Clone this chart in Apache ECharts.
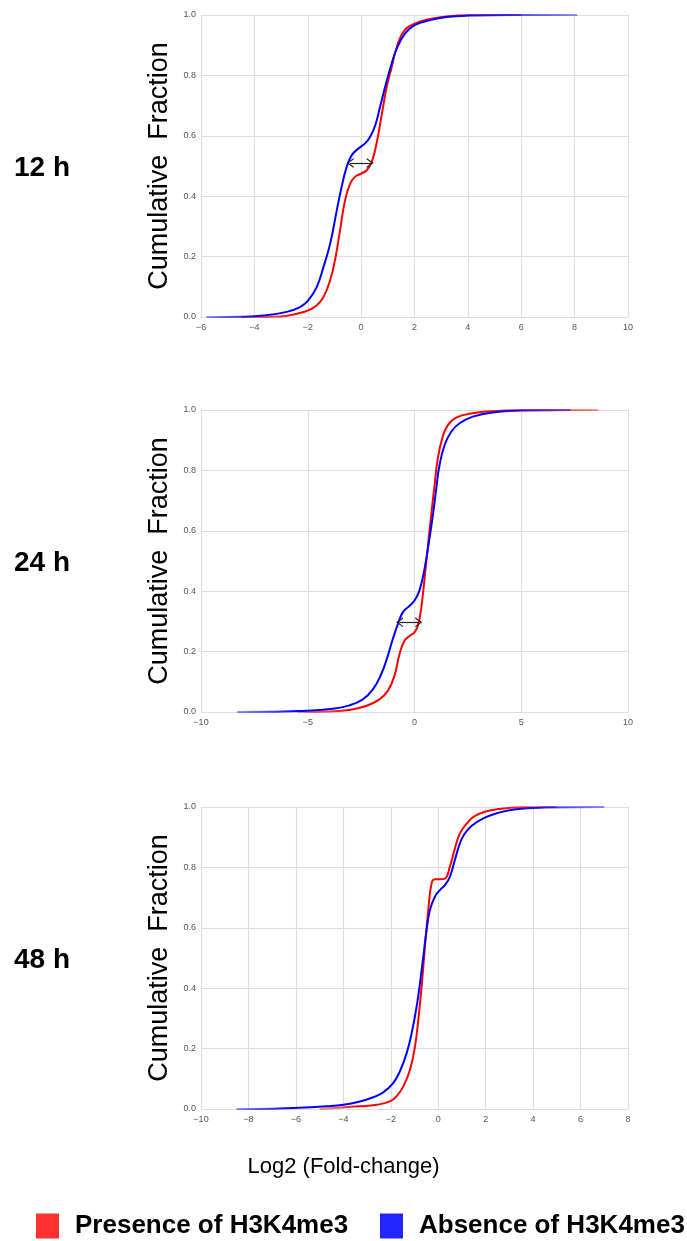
<!DOCTYPE html>
<html>
<head>
<meta charset="utf-8">
<script src="https://cdn.jsdelivr.net/npm/echarts@6/dist/echarts.min.js"></script>
<style>
html,body{margin:0;padding:0;background:#fff;}
#chart{width:687px;height:1241px;}
</style>
</head>
<body>
<div id="chart"></div>
<script>
// ---- data ----
var panelLabels = ['12 h', '24 h', '48 h'];
var seriesNames = ['Presence of H3K4me3', 'Absence of H3K4me3'];
var yTitle = 'Cumulative  Fraction';
var xTitle = 'Log2 (Fold-change)';

// x-axis ranges / tick steps per panel
var xMins = [-6, -10, -10];
var xMaxs = [10, 10, 8];
var xSteps = [2, 5, 2];

// 12 h
var presence12 = [[-4.5,0],[-3.04,0.002],[-2.41,0.011],[-1.98,0.022],[-1.66,0.039],[-1.41,0.066],[-1.16,0.122],[-0.98,0.188],[-0.79,0.287],[-0.6,0.387],[-0.41,0.442],[-0.23,0.464],[0,0.475],[0.21,0.486],[0.4,0.514],[0.59,0.58],[0.78,0.674],[0.96,0.762],[1.15,0.829],[1.34,0.895],[1.59,0.945],[1.96,0.97],[2.59,0.987],[3.2,0.995],[4.0,0.999],[6.0,1.0]];
var absence12 = [[-5.8,0],[-4.5,0.001],[-3.66,0.005],[-2.79,0.017],[-2.29,0.033],[-1.98,0.055],[-1.66,0.10],[-1.41,0.166],[-1.16,0.243],[-0.91,0.354],[-0.73,0.431],[-0.54,0.497],[-0.35,0.536],[-0.1,0.558],[0.15,0.575],[0.34,0.597],[0.53,0.635],[0.71,0.696],[0.9,0.762],[1.09,0.823],[1.34,0.89],[1.65,0.939],[2.02,0.967],[2.59,0.983],[3.2,0.993],[4.0,0.998],[5.5,1.0],[8.1,1.0]];
var arrow12 = [[-0.41,0.51],[0.34,0.51]];

// 24 h
var presence24 = [[-5.5,0],[-4.0,0.002],[-3.05,0.007],[-2.27,0.02],[-1.64,0.042],[-1.25,0.07],[-0.94,0.12],[-0.7,0.192],[-0.47,0.236],[-0.23,0.252],[0,0.264],[0.16,0.286],[0.31,0.341],[0.47,0.441],[0.63,0.551],[0.78,0.651],[0.94,0.751],[1.09,0.839],[1.3,0.906],[1.56,0.95],[1.95,0.975],[2.73,0.989],[3.67,0.996],[5.0,0.999],[8.6,1.0]];
var absence24 = [[-8.3,0],[-6.5,0.001],[-5.39,0.003],[-3.83,0.011],[-3.05,0.022],[-2.42,0.042],[-1.95,0.075],[-1.56,0.125],[-1.25,0.186],[-1.02,0.241],[-0.78,0.291],[-0.55,0.33],[-0.23,0.352],[0,0.369],[0.23,0.402],[0.47,0.474],[0.7,0.574],[0.86,0.651],[1.02,0.74],[1.17,0.817],[1.41,0.884],[1.72,0.928],[2.11,0.956],[2.73,0.978],[3.67,0.992],[5.0,0.998],[7.3,1.0]];
var arrow24 = [[-0.7,0.297],[0.2,0.297]];

// 48 h
var presence48 = [[-5.0,0],[-4.7,0.002],[-3.3,0.009],[-2.6,0.014],[-2.04,0.025],[-1.76,0.042],[-1.47,0.075],[-1.19,0.13],[-0.98,0.207],[-0.84,0.295],[-0.7,0.405],[-0.56,0.537],[-0.42,0.659],[-0.28,0.747],[-0.14,0.761],[0.07,0.761],[0.28,0.763],[0.49,0.802],[0.7,0.862],[0.91,0.912],[1.2,0.945],[1.5,0.968],[2.0,0.985],[2.5,0.993],[3.5,0.999],[5.0,1.0]];
var absence48 = [[-8.5,0],[-7.0,0.001],[-6.1,0.003],[-4.7,0.009],[-4.0,0.014],[-3.3,0.025],[-2.74,0.039],[-2.32,0.055],[-1.9,0.086],[-1.62,0.124],[-1.33,0.185],[-1.12,0.251],[-0.91,0.339],[-0.77,0.416],[-0.63,0.504],[-0.49,0.593],[-0.35,0.659],[-0.14,0.703],[0.07,0.725],[0.28,0.741],[0.49,0.769],[0.7,0.824],[0.91,0.879],[1.1,0.91],[1.4,0.937],[1.9,0.962],[2.5,0.98],[3.2,0.992],[4.5,0.998],[7.0,1.0]];

var presenceData = [presence12, presence24, presence48];
var absenceData = [absence12, absence24, absence48];
var arrows = [arrow12, arrow24, null];

// ---- chart ----
var RED = '#ff0000', BLUE = '#0000ff';
var RED_PALE = 'rgba(255,0,0,0.4)', BLUE_PALE = 'rgba(0,0,255,0.4)';
var FONT = 'Liberation Sans, Arial, sans-serif';
var gridTops = [15, 410, 807];
var gridH = 302;

var chart = echarts.init(document.getElementById('chart'), null, {renderer: 'canvas'});

function fmtNum(v) {
  var s = String(v);
  return s.charAt(0) === '-' ? '\u2212' + s.slice(1) : s;
}

// line colour that pales where the curve lies on the 0 / 1 frame edges
function tailGradient(data, full, pale) {
  var x0 = data[0][0], x1 = data[data.length - 1][0], span = x1 - x0;
  var a = 0, b = 1;
  for (var k = 0; k < data.length; k++) { if (data[k][1] >= 0.003) { a = (data[k][0] - x0) / span; break; } }
  for (var k2 = data.length - 1; k2 >= 0; k2--) { if (data[k2][1] <= 0.997) { b = (data[k2][0] - x0) / span; break; } }
  return new echarts.graphic.LinearGradient(0, 0, 1, 0, [
    {offset: 0, color: pale}, {offset: a, color: full},
    {offset: b, color: full}, {offset: 1, color: pale}
  ]);
}

var chevron = 'path://M0,10 L5,0 L10,10 L8.6,10 L5,2.8 L1.4,10 Z';
var grids = [], xAxes = [], yAxes = [], series = [], graphics = [];
for (var i = 0; i < 3; i++) {
  grids.push({left: 201, width: 427, top: gridTops[i], height: gridH, containLabel: false});
  xAxes.push({
    type: 'value', gridIndex: i, min: xMins[i], max: xMaxs[i], interval: xSteps[i],
    axisLine: {show: false}, axisTick: {show: false},
    axisLabel: {fontSize: 9, color: '#555', fontFamily: FONT, margin: 6, formatter: fmtNum},
    splitLine: {show: true, lineStyle: {color: '#dedede', width: 1.2}}
  });
  yAxes.push({
    type: 'value', gridIndex: i, min: 0, max: 1, interval: 0.2,
    axisLine: {show: false}, axisTick: {show: false},
    axisLabel: {fontSize: 9, color: '#555', fontFamily: FONT, margin: 5,
      formatter: function (v) { return v.toFixed(1); }},
    splitLine: {show: true, lineStyle: {color: '#dedede', width: 1.2}},
    name: yTitle, nameLocation: 'middle', nameGap: 28, nameRotate: 90,
    nameTextStyle: {fontSize: 27, color: '#000', fontFamily: FONT}
  });
  series.push({
    name: seriesNames[0], type: 'line', xAxisIndex: i, yAxisIndex: i,
    data: presenceData[i], showSymbol: false, symbol: 'none',
    smooth: 0.45,
    lineStyle: {color: tailGradient(presenceData[i], RED, RED_PALE), width: 2},
    itemStyle: {color: RED}, z: 3
  });
  series.push({
    name: seriesNames[1], type: 'line', xAxisIndex: i, yAxisIndex: i,
    data: absenceData[i], showSymbol: false, symbol: 'none',
    smooth: 0.45,
    lineStyle: {color: tailGradient(absenceData[i], BLUE, BLUE_PALE), width: 2},
    itemStyle: {color: BLUE}, z: 4
  });
  if (arrows[i]) {
    series.push({
      name: 'arrow' + i, type: 'line', xAxisIndex: i, yAxisIndex: i,
      data: [], silent: true, z: 6,
      markLine: {
        silent: true, animation: false,
        symbol: [chevron, chevron],
        symbolSize: [10, 7],
        label: {show: false},
        lineStyle: {color: '#222', width: 1.2, type: 'solid'},
        data: [[{coord: arrows[i][0]}, {coord: arrows[i][1]}]]
      }
    });
  }
  graphics.push({
    type: 'text', left: 14, top: gridTops[i] + gridH / 2 - 12,
    style: {text: panelLabels[i], font: 'bold 28px ' + FONT, fill: '#000'}
  });
}
graphics.push({
  type: 'text', left: 'center', top: 1156,
  style: {text: xTitle, font: '22px ' + FONT, fill: '#000'}
});

var legendBase = {
  top: 1213, icon: 'rect', padding: 0, itemWidth: 23, itemHeight: 25,
  selectedMode: false,
  textStyle: {fontSize: 26, fontWeight: 'bold', color: '#000', fontFamily: FONT, padding: [0, 0, 0, 11]}
};

chart.setOption({
  animation: false,
  backgroundColor: '#fff',
  grid: grids, xAxis: xAxes, yAxis: yAxes, series: series,
  graphic: graphics,
  legend: [
    Object.assign({}, legendBase, {data: [{name: seriesNames[0], itemStyle: {color: '#ff3030'}}], left: 36}),
    Object.assign({}, legendBase, {data: [{name: seriesNames[1], itemStyle: {color: '#2424ff'}}], left: 380})
  ]
});
</script>
</body>
</html>
